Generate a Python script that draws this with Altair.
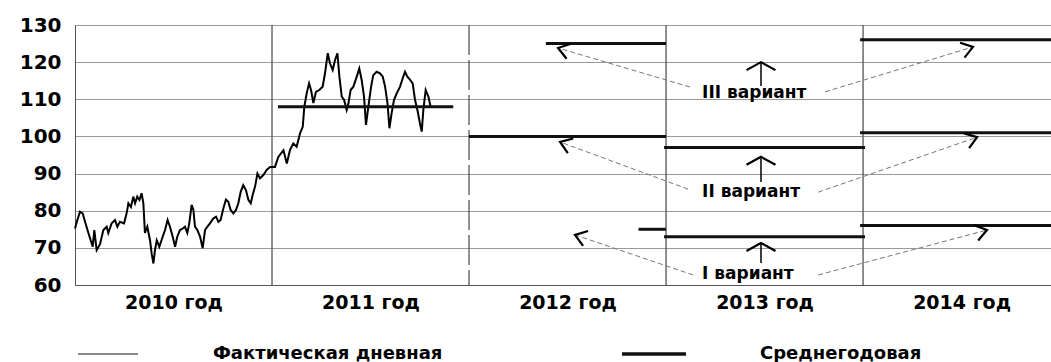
import math
import altair as alt
import pandas as pd

# ---------------- data ----------------
# daily price: offset in years since 1 Jan 2010, value
daily_offset = [
    0.000, 0.012, 0.025, 0.039, 0.051, 0.068, 0.080, 0.090, 0.098, 0.110,
    0.127, 0.144, 0.161, 0.169, 0.186, 0.203, 0.215, 0.228, 0.249, 0.262,
    0.271, 0.284, 0.296, 0.305, 0.316, 0.327, 0.338, 0.347, 0.355, 0.367,
    0.381, 0.389, 0.398, 0.406, 0.415, 0.428, 0.445, 0.457, 0.470, 0.482,
    0.496, 0.508, 0.519, 0.533, 0.547, 0.558, 0.570, 0.580, 0.592, 0.601,
    0.609, 0.621, 0.635, 0.648, 0.660, 0.672, 0.685, 0.702, 0.716, 0.728,
    0.739, 0.753, 0.766, 0.778, 0.790, 0.804, 0.817, 0.829, 0.841, 0.854,
    0.868, 0.880, 0.892, 0.902, 0.914, 0.926, 0.939, 0.956, 0.973, 0.990,
    1.015, 1.032, 1.058, 1.075, 1.091, 1.108, 1.125, 1.142, 1.156, 1.164,
    1.176, 1.188, 1.198, 1.210, 1.223, 1.240, 1.257, 1.269, 1.283, 1.294,
    1.308, 1.320, 1.332, 1.342, 1.354, 1.366, 1.379, 1.388, 1.399, 1.413,
    1.430, 1.443, 1.455, 1.467, 1.477, 1.489, 1.503, 1.514, 1.531, 1.548,
    1.562, 1.574, 1.586, 1.596, 1.607, 1.619, 1.633, 1.650, 1.663, 1.675,
    1.687, 1.701, 1.714, 1.726, 1.738, 1.751, 1.760, 1.768, 1.780, 1.794,
    1.805,
]
daily_value = [
    75.2, 77.5, 79.7, 79.3, 77.0, 74.0, 72.0, 70.3, 74.8, 69.4,
    71.0, 74.8, 75.7, 74.0, 76.6, 77.5, 75.7, 77.0, 76.6, 79.3,
    82.0, 81.0, 83.8, 82.0, 83.8, 82.9, 84.7, 82.0, 74.0, 75.7,
    72.0, 68.5, 65.8, 69.4, 72.0, 70.3, 73.0, 74.8, 77.5, 75.7,
    73.0, 70.3, 73.0, 74.8, 75.2, 75.7, 74.0, 76.6, 81.6, 80.2,
    75.7, 74.8, 73.0, 69.9, 74.8, 75.7, 76.6, 77.9, 78.4, 77.0,
    77.5, 80.6, 83.0, 82.4, 80.2, 79.3, 80.2, 82.0, 85.1, 86.9,
    85.5, 82.9, 82.0, 84.3, 86.5, 90.0, 88.7, 89.6, 91.0, 91.8,
    91.8, 94.5, 96.3, 92.7, 96.3, 98.1, 97.2, 100.8, 102.6, 108.0,
    111.6, 114.3, 112.5, 109.0, 112.0, 112.5, 113.4, 117.0, 122.4, 119.7,
    117.9, 120.6, 122.4, 116.1, 110.7, 109.8, 107.1, 108.9, 112.5, 113.4,
    116.1, 118.3, 115.2, 110.7, 103.1, 108.0, 113.4, 116.5, 117.4, 117.0,
    116.1, 113.4, 109.0, 102.2, 106.2, 109.8, 111.6, 113.4, 115.6, 117.4,
    116.1, 115.2, 114.3, 109.8, 107.1, 103.5, 101.3, 107.1, 112.5, 110.7,
    108.0,
]

# yearly averages (actual 2011 and variants I-III for 2012-2014)
avg_start = [2011.03, 2012.39, 2012.00, 2012.86, 2012.99, 2012.99, 2013.985, 2013.985, 2013.985]
avg_end = [2011.92, 2013.00, 2013.00, 2013.00, 2014.01, 2014.01, 2015.0, 2015.0, 2015.0]
avg_value = [108, 125, 100, 75, 97, 73, 126, 101, 76]

year_boundaries = [2011, 2012, 2013, 2014]
year_centers = [2010.5, 2011.5, 2012.5, 2013.5, 2014.5]
y_ticks = [60, 70, 80, 90, 100, 110, 120, 130]

variant_labels = ["III вариант", "II вариант", "I вариант"]
label_year = [2013.183, 2013.183, 2013.183]
label_value = [111.7, 85.0, 63.0]

up_year = [2013.482, 2013.482, 2013.482]
up_from = [113.6, 87.7, 65.9]
up_to = [120.0, 94.5, 71.3]

arrow_from_year = [2013.122, 2013.807, 2013.112, 2013.772, 2013.137, 2013.772]
arrow_from_value = [113.3, 112.0, 85.8, 85.0, 62.7, 62.7]
arrow_to_year = [2012.452, 2014.558, 2012.462, 2014.579, 2012.538, 2014.629]
arrow_to_value = [123.8, 124.1, 98.5, 99.8, 73.5, 74.8]

legend_labels = ["Фактическая дневная", "Среднегодовая"]

# ---------------- layout ----------------
W, H = 976, 260
X_MIN, X_MAX = 2010.0, 2014.954
Y_MIN, Y_MAX = 60, 130
XPX = W / (X_MAX - X_MIN)
YPX = H / (Y_MAX - Y_MIN)
FONT = "DejaVu Sans"

xs = alt.Scale(domain=[X_MIN, X_MAX], nice=False, zero=False)
ys = alt.Scale(domain=[Y_MIN, Y_MAX], nice=False, zero=False)

daily = pd.DataFrame({"year": [2010 + o for o in daily_offset], "value": daily_value})
avg = pd.DataFrame({"x0": avg_start, "x1": avg_end, "value": avg_value})
bounds = pd.DataFrame({"year": year_boundaries})
labels = pd.DataFrame({"year": label_year, "value": label_value, "label": variant_labels})
ups = pd.DataFrame({"year": up_year, "v0": up_from, "v1": up_to})
arrows = pd.DataFrame({"x0": arrow_from_year, "v0": arrow_from_value,
                       "x1": arrow_to_year, "v1": arrow_to_value})
arrows["ang"] = [
    math.degrees(math.atan2(-(b - a) * YPX, (d - c) * XPX)) % 360
    for a, b, c, d in zip(arrows.v0, arrows.v1, arrows.x0, arrows.x1)
]

x_axis = alt.Axis(values=year_centers, labelExpr="floor(datum.value) + ' год'",
                  ticks=False, grid=False, domain=True, domainColor="#555",
                  labelFont=FONT, labelFontSize=19, labelFontWeight="bold",
                  labelColor="#000", labelPadding=8, labelOverlap=False, title=None)
y_axis = alt.Axis(values=y_ticks, ticks=False, grid=True, gridColor="#9a9a9a",
                  domain=True, domainColor="#555", labelFont=FONT,
                  labelFontSize=20, labelFontWeight="bold", labelColor="#000",
                  labelPadding=14, labelOverlap=False, labelBound=False, title=None)


def X(field):
    return alt.X(field, scale=xs, axis=x_axis)


def Y(field):
    return alt.Y(field, scale=ys, axis=y_axis)


line_daily = alt.Chart(daily).mark_line(color="#000", strokeWidth=2).encode(
    x=X("year:Q"), y=Y("value:Q"),
)

bound_rules = alt.Chart(bounds).mark_rule(color="#555", strokeWidth=1.3).encode(
    x=X("year:Q"),
    strokeDash=alt.condition(alt.datum.year == 2012, alt.value([30, 5]), alt.value([1, 0])),
)

avg_rules = alt.Chart(avg).mark_rule(color="#111", strokeWidth=3, clip=True).encode(
    x=X("x0:Q"), x2="x1:Q", y=Y("value:Q")
)

arrow_lines = alt.Chart(arrows).mark_rule(color="#777", strokeWidth=1, strokeDash=[5, 3]).encode(
    x=X("x0:Q"), x2="x1:Q", y=Y("v0:Q"), y2="v1:Q"
)
arrow_heads = alt.Chart(arrows).mark_point(
    shape="M-1,-0.7L0,0L-1,0.7", size=500, color="#000", strokeWidth=2.2, filled=False, opacity=1
).encode(
    x=X("x1:Q"), y=Y("v1:Q"),
    angle=alt.Angle("ang:Q", scale=None),
)

up_shafts = alt.Chart(ups).mark_rule(color="#000", strokeWidth=1.5).encode(
    x=X("year:Q"), y=Y("v0:Q"), y2="v1:Q"
)
up_heads = alt.Chart(ups).mark_point(
    shape="M-0.55,-1L0,0L-0.55,1", size=841, angle=270, color="#000",
    strokeWidth=2.2, filled=False, opacity=1
).encode(x=X("year:Q"), y=Y("v1:Q"))

variant_text = alt.Chart(labels).mark_text(
    align="left", baseline="middle", font=FONT, fontSize=17, fontWeight="bold", color="#000"
).encode(x=X("year:Q"), y=Y("value:Q"), text="label:N")

leg1 = pd.DataFrame({"label": [legend_labels[0]]})
leg2 = pd.DataFrame({"label": [legend_labels[1]]})
leg_line1 = alt.Chart(leg1).mark_rule(color="#888", strokeWidth=2).encode(
    x=alt.value(3), x2=alt.value(63), y=alt.value(329))
leg_line2 = alt.Chart(leg2).mark_rule(color="#111", strokeWidth=3.5).encode(
    x=alt.value(547), x2=alt.value(611), y=alt.value(329))
leg_text1 = alt.Chart(leg1).mark_text(
    align="left", baseline="middle", font=FONT, fontSize=18, fontWeight="bold", color="#000"
).encode(x=alt.value(138), y=alt.value(329), text="label:N")
leg_text2 = alt.Chart(leg2).mark_text(
    align="left", baseline="middle", font=FONT, fontSize=18, fontWeight="bold", color="#000"
).encode(x=alt.value(685), y=alt.value(329), text="label:N")

chart = alt.layer(
    bound_rules, line_daily, avg_rules, arrow_lines, arrow_heads, up_shafts, up_heads,
    variant_text, leg_line1, leg_line2, leg_text1, leg_text2,
).properties(
    width=W, height=H,
    autosize=alt.AutoSizeParams(type="none"),
    padding={"left": 75, "top": 25, "right": 0, "bottom": 77},
    background="white",
).configure_view(strokeWidth=0)

chart.save("out.html", embed_options={"renderer": "svg", "actions": False})
